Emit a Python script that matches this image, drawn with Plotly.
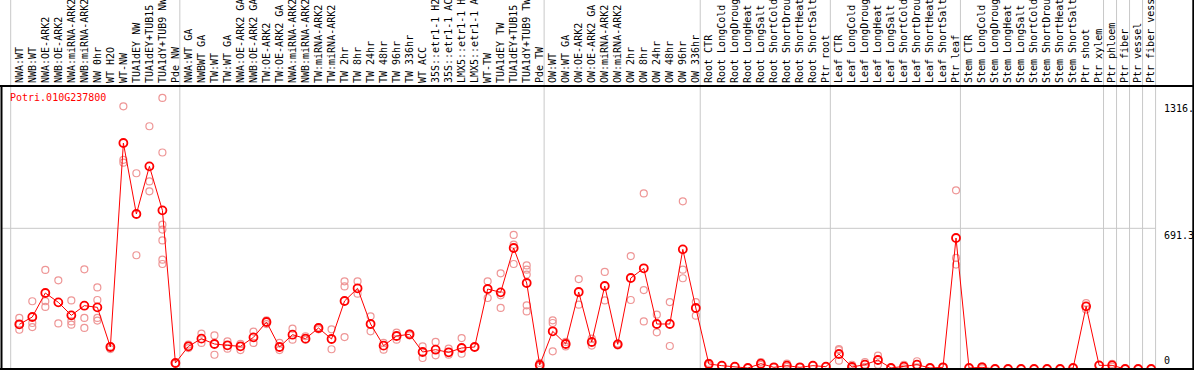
import plotly.graph_objects as go

gene_id = "Potri.010G237800"

categories = [
    "NWA:WT", "NWB:WT", "NWA:OE-ARK2", "NWB:OE-ARK2", "NWA:miRNA-ARK2", "NWB:miRNA-ARK2",
    "NW 0hr", "WT H2O", "WT-NW", "TUA1dEY NW", "TUA1dEY+TUB15 NW", "TUA1dY+TUB9 NW", "Pde NW",
    "NWA:WT GA", "NWBWT GA", "TW:WT", "TW:WT GA", "NWA:OE-ARK2 GA", "NWB:OE-ARK2 GA",
    "TW:OE-ARK2", "TW:OE-ARK2 GA", "NWA:miRNA-ARK2 GA", "NWB:miRNA-ARK2 GA", "TW:miRNA-ARK2",
    "TW:miRNA-ARK2 GA", "TW 2hr", "TW 8hr", "TW 24hr", "TW 48hr", "TW 96hr", "TW 336hr", "WT ACC",
    "35S::etr1-1 H2O", "35S::etr1-1 ACC", "LMX5::etr1-1 H2O", "LMX5::etr1-1 ACC", "WT-TW",
    "TUA1dEY TW", "TUA1dEY+TUB15 TW", "TUA1dY+TUB9 TW", "Pde TW",
    "OW:WT", "OW:WT GA", "OW:OE-ARK2", "OW:OE-ARK2 GA", "OW:miRNA-ARK2", "OW:miRNA-ARK2 GA",
    "OW 2hr", "OW 8hr", "OW 24hr", "OW 48hr", "OW 96hr", "OW 336hr",
    "Root CTR", "Root LongCold", "Root LongDrought", "Root LongHeat", "Root LongSalt",
    "Root ShortCold", "Root ShortDrought", "Root ShortHeat", "Root ShortSalt", "Ptr root",
    "Leaf CTR", "Leaf LongCold", "Leaf LongDrought", "Leaf LongHeat", "Leaf LongSalt",
    "Leaf ShortCold", "Leaf ShortDrought", "Leaf ShortHeat", "Leaf ShortSalt", "Ptr leaf",
    "Stem CTR", "Stem LongCold", "Stem LongDrought", "Stem LongHeat", "Stem LongSalt",
    "Stem ShortCold", "Stem ShortDrought", "Stem ShortHeat", "Stem ShortSalt", "Ptr shoot",
    "Ptr xylem", "Ptr phloem", "Ptr fiber", "Ptr vessel", "Ptr fiber vessel",
]

means = [
    219.5, 255.5, 373.5, 327.6, 263.7, 311.2, 303.0, 108.1, 1110.6, 761.7, 995.9, 779.7, 29.5,
    111.4, 149.1, 122.9, 116.3, 111.4, 155.6, 231.0, 108.1, 168.7, 149.1, 201.5, 147.4, 334.2,
    396.4, 221.1, 114.7, 162.2, 170.4, 83.5, 95.0, 81.9, 103.2, 108.1, 393.1, 376.7, 594.6,
    422.6, 19.7,
    185.1, 122.9, 378.4, 132.7, 407.9, 121.2, 447.2, 494.7, 221.1, 221.1, 588.0, 299.8,
    24.6, 16.4, 11.5, 4.9, 26.2, 8.2, 16.4, 8.2, 16.4, 11.5,
    73.7, 9.8, 21.3, 44.2, 4.9, 11.5, 21.3, 4.9, 8.2, 643.7,
    4.9, 8.2, 0, 0, 0, 0, 0, 0, 4.9, 307.9,
    18.0, 18.0, 0, 0, 0,
]

replicates = [
    [251, 218, 193], [333, 226, 206], [487, 333, 305], [436, 224], [337, 234, 218],
    [490, 251, 202], [401, 339, 251, 238], [111, 98], [1291, 1028, 1014], [962, 559],
    [1193, 922, 873], [1332, 1064, 709, 685, 632, 537, 516], [30, 26],
    [120, 103], [174, 128], [165, 70], [136, 100], [123, 93], [184, 128], [239, 221],
    [128, 93], [198, 144], [161, 144], [205, 195], [195, 97], [431, 406, 157], [431, 370],
    [259, 185], [128, 95], [179, 144], [174, 165], [111, 54], [133, 67], [100, 70],
    [152, 75], [108], [431, 349], [470, 362, 300], [659, 611, 516],
    [509, 488, 464, 313, 283], [30, 13],
    [239, 226, 87], [133, 111], [442, 316], [149, 115], [477, 337], [125, 116], [555, 339],
    [863, 388, 234], [267, 180], [329, 113], [824, 488, 446], [329, 262],
    [30, 18], [16], [11], [5], [34, 20], [8], [26, 10], [8], [16], [11],
    [98, 93, 41], [21, 3], [34, 10], [66, 21], [5], [21, 3], [38, 8], [5], [8], [878, 546, 513],
    [5], [13, 3], [0], [0], [0], [0], [0], [0], [5], [324, 292],
    [18], [25, 11], [0], [0], [0],
]

group_bounds = [0, 13, 41, 53, 63, 73, 84, 85, 86, 87, 88]

axis_tick_values = [1316.3, 691.3, 0]
axis_tick_labels = ["1316.", "691.3", "0"]
grid_value = 691.3

# ---- layout geometry (pixels) ----
W, H = 1194, 370
ML, MR, MT, MB = 2, 1, 86, 1
X0_PX, STEP_PX = 19.3, 13.01
Y_TOP = 1390.7


def px2x(px):
    return (px - X0_PX) / STEP_PX


def px2paper_x(px):
    return (px - ML) / (W - ML - MR)


def px2paper_y(py):
    return (H - MB - py) / (H - MT - MB)


xs = list(range(len(categories)))
rep_x = [i for i, r in enumerate(replicates) for _ in r]
rep_y = [v for r in replicates for v in r]

fig = go.Figure()
fig.add_trace(go.Scatter(
    x=rep_x, y=rep_y, mode="markers",
    marker=dict(symbol="circle-open", size=7, color="#ee9696", line=dict(width=1.2, color="#ee9696")),
    hoverinfo="skip", showlegend=False,
))
fig.add_trace(go.Scatter(
    x=xs, y=means, mode="lines+markers",
    line=dict(color="#ff0000", width=1),
    marker=dict(symbol="circle-open", size=8, color="#ff0000", line=dict(width=1.8, color="#ff0000")),
    showlegend=False,
))

shapes = []
for b in group_bounds:
    xb = b - 0.661
    shapes.append(dict(type="line", xref="x", yref="paper", x0=xb, x1=xb, y0=0,
                       y1=px2paper_y(0), line=dict(color="#c8c8c8", width=1), layer="below"))
shapes.append(dict(type="line", xref="paper", yref="y", x0=px2paper_x(1.5),
                   x1=px2paper_x(1155.7), y0=grid_value, y1=grid_value,
                   line=dict(color="#c8c8c8", width=1), layer="below"))
# frame
black = dict(color="black", width=2)
shapes += [
    dict(type="line", xref="paper", yref="paper", x0=px2paper_x(0), x1=px2paper_x(W),
         y0=px2paper_y(86), y1=px2paper_y(86), line=black),
    dict(type="line", xref="paper", yref="paper", x0=px2paper_x(0), x1=px2paper_x(W),
         y0=px2paper_y(369), y1=px2paper_y(369), line=black),
    dict(type="line", xref="paper", yref="paper", x0=px2paper_x(1.5), x1=px2paper_x(1.5),
         y0=px2paper_y(86), y1=px2paper_y(370), line=black),
    dict(type="line", xref="paper", yref="paper", x0=px2paper_x(1193.3), x1=px2paper_x(1193.3),
         y0=px2paper_y(0), y1=px2paper_y(370), line=black),
]

mono = "DejaVu Sans Mono"
annotations = [dict(text=gene_id, xref="paper", yref="paper", x=px2paper_x(8), y=px2paper_y(97),
                    xanchor="left", yanchor="middle", showarrow=False,
                    font=dict(family=mono, size=10, color="#ff0000"))]
for v, t in zip(axis_tick_values, axis_tick_labels):
    is_zero = v == 0
    annotations.append(dict(text=t, xref="paper", yref="y", x=px2paper_x(1162), y=v,
                            xanchor="left", yanchor="bottom" if is_zero else "top",
                            yshift=1 if is_zero else 0, showarrow=False,
                            font=dict(family=mono, size=10, color="black")))

fig.update_layout(
    width=W, height=H, autosize=False,
    margin=dict(l=ML, r=MR, t=MT, b=MB, pad=0, autoexpand=False),
    paper_bgcolor="white", plot_bgcolor="white",
    shapes=shapes, annotations=annotations,
    xaxis=dict(range=[px2x(ML), px2x(W - MR)], side="top", tickmode="array",
               tickvals=xs, ticktext=categories, tickangle=-90, ticks="",
               ticklabelstandoff=2, automargin=False,
               tickfont=dict(family=mono, size=10, color="black"),
               showgrid=False, zeroline=False, showline=False, fixedrange=True),
    yaxis=dict(range=[0, Y_TOP], showgrid=False, zeroline=False, showline=False,
               showticklabels=False, ticks="", fixedrange=True, automargin=False),
)

fig.write_html(
    "out.html",
    config={"displayModeBar": False},
    post_script="document.body.style.margin='0';document.body.style.overflow='hidden';",
)
